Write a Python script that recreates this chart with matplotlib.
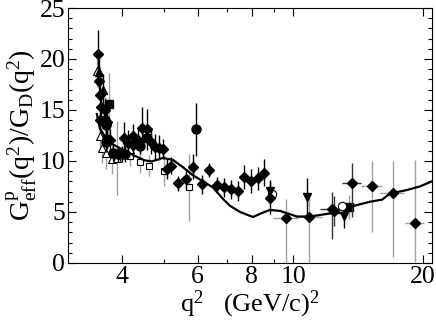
import matplotlib
matplotlib.use("Agg")
import matplotlib.pyplot as plt
from matplotlib.ticker import FixedLocator, NullFormatter, FixedFormatter

plt.rcParams['font.family'] = ['Liberation Serif', 'DejaVu Serif']
plt.rcParams['mathtext.fontset'] = 'custom'
plt.rcParams['mathtext.rm'] = 'Liberation Serif'
plt.rcParams['mathtext.it'] = 'Liberation Serif:italic'

# ---- data ----
curve_q2 = [3.50, 3.557, 3.654, 3.752, 3.915, 4.064, 4.29, 4.525, 4.695, 4.98, 5.255,
            5.54, 5.85, 6.17, 6.51, 6.86, 7.13, 7.52, 8.06, 8.46, 8.83, 9.31, 10.2,
            10.93, 12.17, 13.04, 13.54, 15.07, 16.07, 16.77, 18.37, 19.68, 20.99]
curve_val = [14.6, 13.2, 12.4, 11.8, 11.35, 11.0, 10.5, 10.05, 9.95, 10.3, 10.1,
             9.4, 8.6, 8.0, 7.4, 6.3, 5.6, 5.0, 4.5, 4.9, 5.2, 5.1, 4.55,
             4.55, 4.85, 4.9, 5.5, 6.0, 6.2, 6.8, 7.15, 7.5, 8.0]

# filled diamonds, black errors
dia_q2 = [3.513, 3.538, 3.557, 3.576, 3.654, 3.557, 3.687, 3.673, 3.752, 4.05, 4.137,
          4.235, 4.248, 4.356, 4.463, 4.564, 4.67, 4.784, 4.882, 4.993, 5.095, 5.216,
          5.403, 5.63, 5.861, 6.124, 6.377, 6.637, 6.902, 7.165, 7.426, 7.692, 7.972,
          8.264, 8.56, 8.826]
dia_val = [20.45, 17.8, 16.5, 15.3, 15.0, 14.0, 13.85, 13.6, 12.1, 12.3, 11.8,
           11.6, 12.45, 12.1, 13.25, 13.1, 11.9, 11.4, 11.3, 11.2, 9.2, 9.55,
           7.8, 8.2, 9.45, 7.7, 9.1, 7.65, 7.4, 7.2, 7.06, 8.4, 8.05,
           8.3, 8.85, 6.35]
dia_err = [2.4, 1.5, 1.5, 1.5, 1.2, 1.2, 1.0, 1.0, 1.0, 1.5, 1.2,
           1.2, 1.2, 1.0, 2.0, 2.0, 1.2, 1.2, 1.2, 1.0, 1.0, 0.8,
           0.75, 1.0, 1.25, 0.9, 0.7, 0.75, 0.9, 0.9, 1.0, 1.2, 1.2,
           1.15, 1.35, 1.6]

# high-q2 diamonds with x errors
hd_q2 = [9.616, 10.89, 12.28, 12.45, 13.66, 15.2, 17.01, 19.16]
hd_val = [4.4, 4.5, 5.3, 5.1, 7.8, 7.55, 6.85, 3.9]
hd_err_lo = [4.6, 4.6, 3.0, 1.5, 3.3, 4.5, 6.3, 3.8]
hd_err_hi = [1.9, 2.0, 1.7, 1.5, 2.0, 2.4, 3.1, 6.2]
hd_xerr = [0.65, 0.8, 0.75, 0.3, 0.7, 0.85, 1.1, 1.0]
hd_gray = [True, True, False, False, False, True, True, True]

# filled circles
circ_q2 = [3.654, 3.668, 3.668, 3.687, 3.813, 3.922, 3.994, 4.064, 4.403, 5.94]
circ_val = [14.0, 13.5, 11.9, 12.2, 10.8, 10.7, 10.7, 10.7, 11.5, 13.1]
circ_err = [1.0, 1.0, 1.0, 1.0, 0.8, 0.8, 0.8, 0.8, 0.8, 2.6]

# filled squares
sq_q2 = [3.738, 4.564, 13.49]
sq_val = [15.6, 12.3, 5.5]
sq_err = [3.0, 0.8, 1.2]

# filled triangles up
tri_q2 = [3.538, 3.609]
tri_val = [18.7, 17.0]
tri_err = [1.5, 1.5]

# open triangles up (gray errors)
otri_q2 = [3.505, 3.557, 3.59, 3.668, 3.786, 3.889, 4.174]
otri_val = [18.8, 12.4, 11.3, 10.75, 10.2, 10.3, 11.2]
otri_err = [1.5, 1.5, 1.5, 1.5, 1.5, 3.6, 1.2]

# open squares (gray errors)
osq_q2 = [4.174, 4.403, 4.62, 5.01, 5.731]
osq_val = [10.5, 9.85, 9.55, 9.05, 7.4]
osq_err = [1.0, 1.0, 1.0, 1.5, 3.3]

# filled triangles down
tdn_q2 = [8.826, 10.79, 13.11]
tdn_val = [7.1, 6.45, 4.6]
tdn_err = [1.0, 1.9, 1.15]

# open circles
oc_q2 = [8.906, 12.99]
oc_val = [6.8, 5.55]

x_ticks = [4, 6, 8, 10, 20]
x_minor = [5, 7, 9]
y_ticks = [0, 5, 10, 15, 20, 25]

# ---- figure ----
fig = plt.figure(figsize=(4.36, 3.21), dpi=100)
ax = fig.add_axes([0.156, 0.181, 0.835, 0.794])
ax.set_xscale('log')

GRAY = '#a0a0a0'
ekw = dict(linestyle='none', elinewidth=1.0, capsize=0)

ax.errorbar(osq_q2, osq_val, yerr=osq_err, fmt='s', ms=5, mfc='white', mec='black',
            mew=0.8, ecolor=GRAY, **ekw, zorder=2)
ax.errorbar(otri_q2, otri_val, yerr=otri_err, fmt='^', ms=5.5, mfc='white', mec='black',
            mew=0.8, ecolor=GRAY, **ekw, zorder=2)
ax.errorbar(sq_q2, sq_val, yerr=sq_err, fmt='s', ms=5.5, color='black',
            ecolor=GRAY, **ekw, zorder=3)
ax.errorbar(circ_q2, circ_val, yerr=circ_err, fmt='o', ms=6.5, color='black',
            ecolor='black', **ekw, zorder=3)
ax.errorbar(tri_q2, tri_val, yerr=tri_err, fmt='^', ms=6, color='black',
            ecolor='black', **ekw, zorder=3)
ax.errorbar(dia_q2, dia_val, yerr=dia_err, fmt='D', ms=4.6, color='black',
            ecolor='black', **ekw, zorder=4)
for q, v, lo, hi, xe, g in zip(hd_q2, hd_val, hd_err_lo, hd_err_hi, hd_xerr, hd_gray):
    ax.errorbar([q], [v], yerr=[[lo], [hi]], xerr=[[xe], [xe]], fmt='D', ms=4.6,
                color='black', ecolor=(GRAY if g else '#333333'), **ekw, zorder=4)
ax.errorbar(tdn_q2, tdn_val, yerr=tdn_err, fmt='v', ms=6, color='black',
            ecolor='black', **ekw, zorder=4)
ax.plot(oc_q2, oc_val, 'o', ms=6, mfc='white', mec='black', mew=0.8, zorder=4)

ax.plot(curve_q2, curve_val, '-', color='black', lw=1.6, zorder=5)

ax.set_xlim(3.0, 21.0)
ax.set_ylim(0, 25)

ax.xaxis.set_major_locator(FixedLocator(x_ticks))
ax.xaxis.set_major_formatter(FixedFormatter([str(t) for t in x_ticks]))
ax.xaxis.set_minor_locator(FixedLocator(x_minor))
ax.xaxis.set_minor_formatter(NullFormatter())
ax.yaxis.set_major_locator(FixedLocator(y_ticks))
ax.yaxis.set_minor_locator(FixedLocator(range(0, 26)))

ax.tick_params(which='both', direction='in', top=True, right=True, labelsize=18.5,
               width=0.8, pad=2)
ax.tick_params(which='major', length=6)
ax.tick_params(which='minor', length=3)
for s in ax.spines.values():
    s.set_linewidth(0.8)

ax.set_xlabel(r'$\mathrm{q^{2}}$   (GeV/c)$^{2}$', fontsize=19, labelpad=1)
ax.set_ylabel(r'$\mathrm{G^{p}_{eff}(q^{2})/G_{D}(q^{2})}$', fontsize=20, labelpad=0)

fig.savefig('out.png', dpi=100)
